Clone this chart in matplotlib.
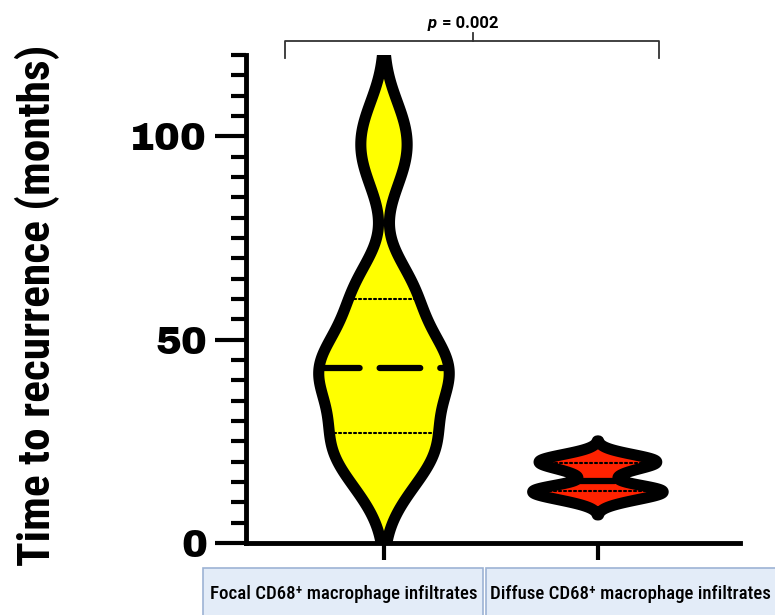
import os
import numpy as np
import matplotlib
matplotlib.use("Agg")
import matplotlib.pyplot as plt
from matplotlib import font_manager as fm
from matplotlib.ft2font import FT2Font
from matplotlib.mlab import GaussianKDE
from matplotlib.patches import Rectangle
from matplotlib.ticker import MultipleLocator

# 数据：复发时间（月）
group_names = ["Focal CD68{} macrophage infiltrates", "Diffuse CD68{} macrophage infiltrates"]
focal = [12, 17, 20, 22.5, 24.5, 26, 27, 32, 35.5, 38, 40, 41.5, 43, 44, 45.5, 48, 51, 55, 60, 63, 65,
         90, 96, 100, 106]
diffuse = [10.5, 11.5, 12.5, 13, 13, 13.5, 17, 19, 19.5, 20, 20.5, 21.5]
bandwidths = [0.28, 0.36]
colors = ["#FFFF00", "#FF2200"]
y_ticks = [0, 50, 100]
y_label = "Time to recurrence (months)"
p_text = "p"
p_value = "= 0.002"

positions = [1, 2]
outline_lw = 8


def font_file(candidates):
    files = {os.path.basename(f.fname): f.fname for f in fm.fontManager.ttflist}
    for c in candidates:
        if c in files:
            return files[c]
    return None


def fp(path, size, **fallback):
    if path:
        return fm.FontProperties(fname=path, size=size)
    return fm.FontProperties(size=size, **fallback)


def violin_stats(values, bw, cut):
    values = np.asarray(values, dtype=float)
    kde = GaussianKDE(values, bw_method=bw)
    h = bw * np.std(values, ddof=1)
    coords = np.linspace(values.min() - cut * h, values.max() + cut * h, 400)
    return dict(coords=coords, vals=kde.evaluate(coords), mean=values.mean(),
                median=np.median(values), min=coords.min(), max=coords.max(),
                quantiles=[])


label_font = font_file(["RobotoCondensed-Bold.ttf", "PTSansNarrow-Bold.ttf",
                        "ArchivoNarrow-Bold.ttf", "BarlowCondensed-Bold.ttf",
                        "AsapCondensed-Bold.ttf", "DejaVuSansCondensed-Bold.ttf"])
box_font = font_file(["RobotoCondensed-Medium.ttf", "RobotoCondensed-SemiBold.ttf",
                      "AsapCondensed-SemiBold.ttf", "DejaVuSansCondensed-Bold.ttf"])
tick_font = font_file(["ArchivoBlack-Regular.ttf", "DejaVuSans-Bold.ttf"])

# 上标 + ：字体有字形就用 ⁺，否则用 mathtext
sup = "$^{+}$"
if box_font and FT2Font(box_font).get_char_index(0x207A):
    sup = "\u207a"
groups = [g.format(sup) for g in group_names]

fig = plt.figure(figsize=(7.75, 6.15), dpi=100)
ax = fig.add_axes([0.3174, 0.1171, 0.6374, 0.7935])

stats = [violin_stats(d, bw, c) for d, bw, c in zip([focal, diffuse], bandwidths, [3, 2.5])]
width = 0.61

# 填充
parts = ax.violin(stats, positions=positions, widths=width, showextrema=False)
for body, c in zip(parts["bodies"], colors):
    body.set_facecolor(c)
    body.set_edgecolor("none")
    body.set_alpha(1)
    body.set_zorder(1)

# 四分位线和中位数
for data, st, pos in zip([focal, diffuse], stats, positions):
    vmax = st["vals"].max()
    q1, med, q3 = np.percentile(data, [25, 50, 75])
    for q, style, lw in [(q1, (0, (1, 1.4)), 1.5), (q3, (0, (1, 1.4)), 1.5),
                         (med, (0, (6.5, 3.2)), 4.5)]:
        hw = np.interp(q, st["coords"], st["vals"]) / vmax * width / 2
        ax.plot([pos - hw, pos + hw], [q, q], color="black", lw=lw,
                linestyle=style, dash_capstyle="round", zorder=2)

# 轮廓
parts2 = ax.violin(stats, positions=positions, widths=width, showextrema=False)
for body in parts2["bodies"]:
    body.set_facecolor("none")
    body.set_edgecolor("black")
    body.set_linewidth(outline_lw)
    body.set_alpha(1)
    body.set_zorder(3)
    body.set_joinstyle("round")

ax.set_xlim(0.355, 2.664)
ax.set_ylim(0, 120)
ax.spines["top"].set_visible(False)
ax.spines["right"].set_visible(False)
ax.spines["left"].set_linewidth(3.5)
ax.spines["bottom"].set_linewidth(3.5)
ax.set_yticks(y_ticks)
ax.yaxis.set_minor_locator(MultipleLocator(5))
ax.tick_params(axis="y", which="major", length=22, width=3, pad=6)
ax.tick_params(axis="y", which="minor", length=11, width=3)
ax.set_yticklabels([str(t) for t in y_ticks],
                   fontproperties=fp(tick_font, 28, family="DejaVu Sans", weight="bold"))
ax.set_xticks(positions)
ax.set_xticklabels(["", ""])
ax.tick_params(axis="x", length=12, width=3)

ylab = fig.text(37 / 775, 0.504, y_label, rotation=90, ha="center", va="center",
                fontproperties=fp(label_font, 34, family="DejaVu Sans", weight="bold"))

# p 值括号
bx0, bx1, bxm = 0.537, 2.285, 1.415
ax.plot([bx0, bx0, bx1, bx1], [119.2, 123.4, 123.4, 119.2], color="#333333",
        lw=1.3, clip_on=False)
ax.plot([bxm, bxm], [123.4, 125.3], color="#333333", lw=1.3, clip_on=False)
ax.text(1.248, 126.0, p_text, ha="right", va="bottom", fontsize=12,
        family="Roboto", weight="bold", style="italic")
ax.text(1.271, 126.0, p_value, ha="left", va="bottom", fontsize=12,
        family="Roboto", weight="bold")

# 分组标签框
boxes = [(203, 483), (486, 790)]
for (x0, x1), label in zip(boxes, groups):
    fig.patches.append(Rectangle((x0 / 775, -0.01), (x1 - x0) / 775, (1 - 568 / 615) + 0.01,
                                 transform=fig.transFigure, facecolor="#e3ecf8",
                                 edgecolor="#9db3d4", lw=1.2))
centers = [344, 630]
box_texts = []
for cx, label in zip(centers, groups):
    box_texts.append(fig.text(cx / 775, 1 - 594 / 615, label, ha="center", va="center",
                              fontproperties=fp(box_font, 14, family="DejaVu Sans",
                                                weight="bold")))

# 按参考图的文字长度调整字号
renderer = fig.canvas.get_renderer()
bb = ylab.get_window_extent(renderer)
ylab.set_fontsize(ylab.get_fontsize() * 520 / bb.height)
bb = box_texts[0].get_window_extent(renderer)
scale = 268 / bb.width
for t in box_texts:
    t.set_fontsize(t.get_fontsize() * scale)

fig.savefig("out.png", dpi=100)
